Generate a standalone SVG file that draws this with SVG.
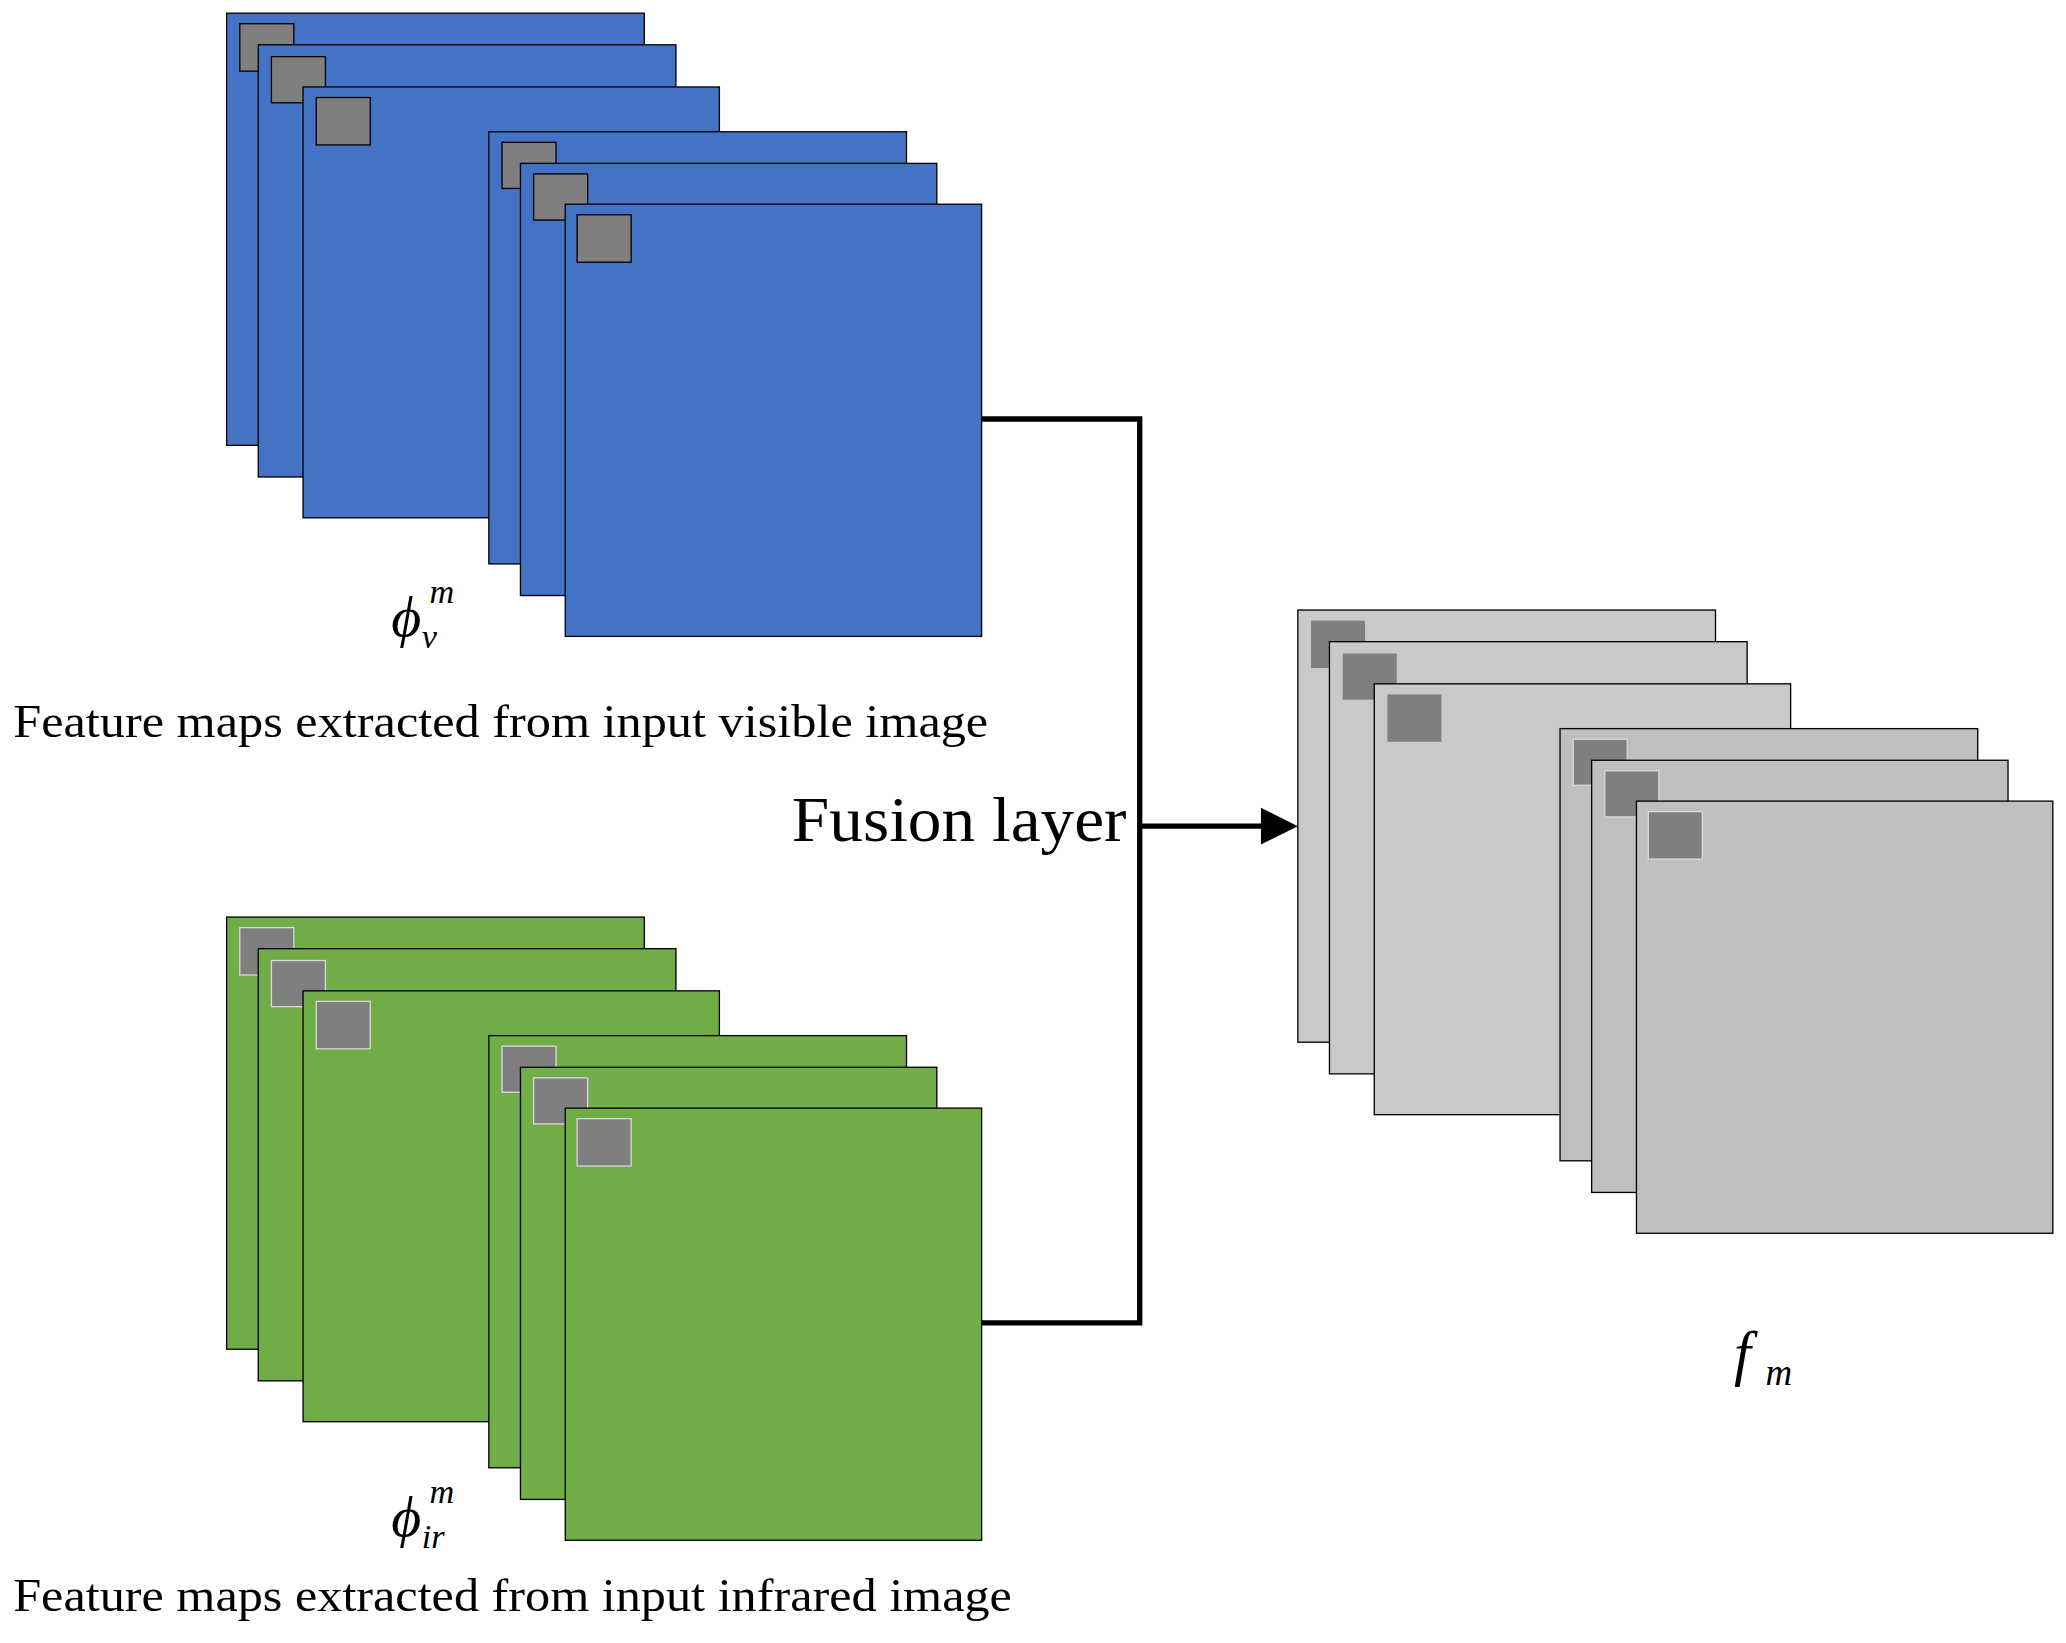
<svg xmlns="http://www.w3.org/2000/svg" width="2066" height="1643" viewBox="0 0 2066 1643">
<style>
.b{fill:#4472c4;stroke:#000;stroke-width:1}
.g{fill:#70ad47;stroke:#000;stroke-width:1}
.l1{fill:#c9c9c9;stroke:#000;stroke-width:1}
.l2{fill:#bfbfbf;stroke:#000;stroke-width:1}
.sq{fill:#7f7f7f;stroke:#000;stroke-width:1}
.sqw{fill:#7f7f7f;stroke:#d9d9d9;stroke-width:1}
.t{font-family:"Liberation Serif","Times New Roman",serif;fill:#000}
.i{font-family:"Liberation Serif","Times New Roman",serif;font-style:italic;fill:#000}
.c{fill:none;stroke:#000;stroke-width:4}
</style>
<rect width="2066" height="1643" fill="#fff"/>
<g transform="scale(1.3176)">
<g id="visible">
<rect class="b" x="172" y="10" width="317" height="328"/><rect class="sq" x="182" y="18" width="41" height="36"/>
<rect class="b" x="196" y="34" width="317" height="328"/><rect class="sq" x="206" y="43" width="41" height="35"/>
<rect class="b" x="230" y="66" width="316" height="327"/><rect class="sq" x="240" y="74" width="41" height="36"/>
<rect class="b" x="371" y="100" width="317" height="328"/><rect class="sq" x="381" y="108" width="41" height="35"/>
<rect class="b" x="395" y="124" width="316" height="328"/><rect class="sq" x="405" y="132" width="41" height="35"/>
<rect class="b" x="429" y="155" width="316" height="328"/><rect class="sq" x="438" y="163" width="41" height="36"/>
</g>
<g id="infrared">
<rect class="g" x="172" y="696" width="317" height="328"/><rect class="sqw" x="182" y="704" width="41" height="36"/>
<rect class="g" x="196" y="720" width="317" height="328"/><rect class="sqw" x="206" y="729" width="41" height="35"/>
<rect class="g" x="230" y="752" width="316" height="327"/><rect class="sqw" x="240" y="760" width="41" height="36"/>
<rect class="g" x="371" y="786" width="317" height="328"/><rect class="sqw" x="381" y="794" width="41" height="35"/>
<rect class="g" x="395" y="810" width="316" height="328"/><rect class="sqw" x="405" y="818" width="41" height="35"/>
<rect class="g" x="429" y="841" width="316" height="328"/><rect class="sqw" x="438" y="849" width="41" height="36"/>
</g>
<g id="fused">
<rect class="l1" x="985" y="463" width="317" height="328"/><rect class="sqw" x="995" y="471" width="41" height="36" style="stroke:none"/>
<rect class="l1" x="1009" y="487" width="317" height="328"/><rect class="sqw" x="1019" y="496" width="41" height="35" style="stroke:none"/>
<rect class="l1" x="1043" y="519" width="316" height="327"/><rect class="sqw" x="1053" y="527" width="41" height="36" style="stroke:none"/>
<rect class="l2" x="1184" y="553" width="317" height="328"/><rect class="sqw" x="1194" y="561" width="41" height="35"/>
<rect class="l2" x="1208" y="577" width="316" height="328"/><rect class="sqw" x="1218" y="585" width="41" height="35"/>
<rect class="l2" x="1242" y="608" width="316" height="328"/><rect class="sqw" x="1251" y="616" width="41" height="36"/>
</g>
<g id="connectors">
<path class="c" d="M745,318H865V1004H745"/>
<path class="c" d="M865,627H960"/>
<path d="M957,613L985,627L957,641z" fill="#000"/>
</g>
<g id="labels">
<text class="i" x="297" y="483" font-size="44">ϕ</text><text class="i" x="320" y="492" font-size="26">v</text><text class="i" x="326" y="458" font-size="26">m</text>
<text class="t" x="10" y="559" font-size="36" textLength="740" lengthAdjust="spacingAndGlyphs">Feature maps extracted from input visible image</text>
<text class="t" x="601" y="638" font-size="48" textLength="254" lengthAdjust="spacingAndGlyphs">Fusion layer</text>
<text class="i" x="297" y="1166" font-size="44">ϕ</text><text class="i" x="320" y="1175" font-size="26">ir</text><text class="i" x="326" y="1141" font-size="26">m</text>
<text class="t" x="10" y="1223" font-size="36" textLength="758" lengthAdjust="spacingAndGlyphs">Feature maps extracted from input infrared image</text>
<text class="i" x="1316" y="1043" font-size="46">f</text><text class="i" x="1340" y="1051" font-size="28">m</text>
</g>
</g>
</svg>
